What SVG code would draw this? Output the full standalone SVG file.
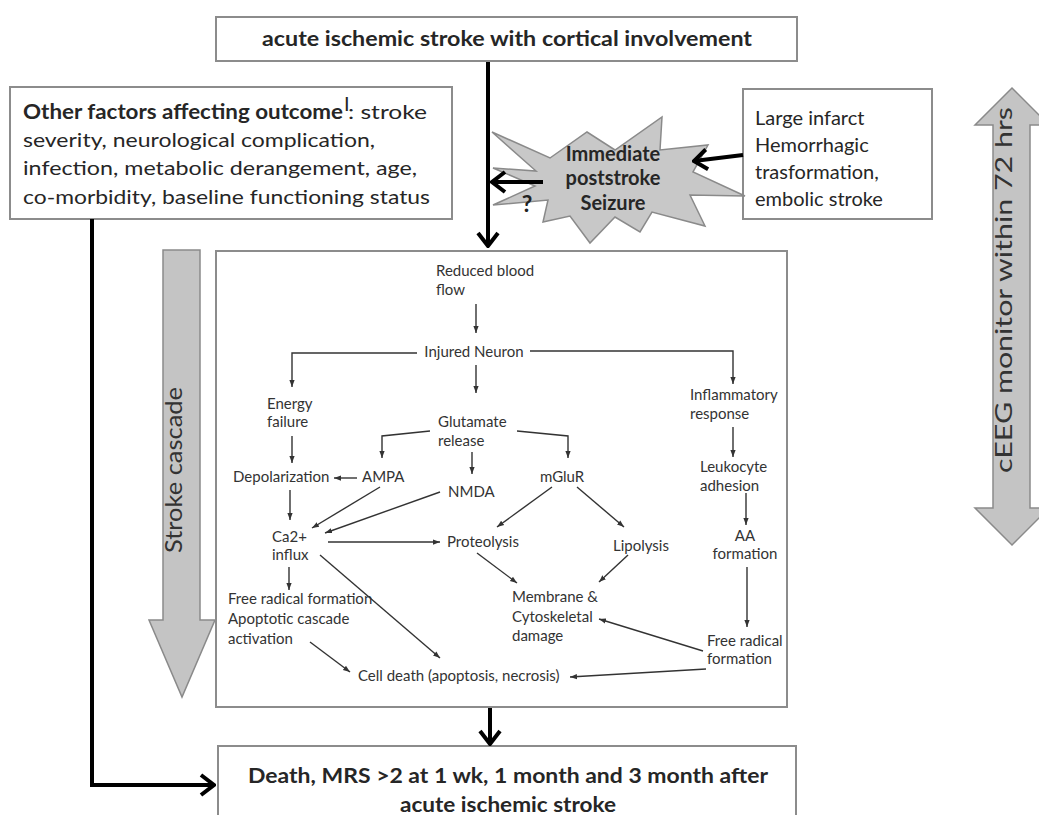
<svg xmlns="http://www.w3.org/2000/svg" width="1039" height="815" viewBox="0 0 1039 815">
<style>
.box{fill:#fff;stroke:#8c8c8c;stroke-width:2}
.big{font-family:Lato,"Liberation Sans",sans-serif;font-size:20px;fill:#262626}
.bold{font-weight:bold}
.sm{font-family:Lato,"Liberation Sans",sans-serif;font-size:15px;fill:#333}
.mid{text-anchor:middle}
.thick{fill:none;stroke:#000;stroke-width:4;marker-end:url(#chev)}
.thin{fill:none;stroke:#333;stroke-width:1.4;marker-end:url(#tri)}
.garrow{fill:#c4c4c4;stroke:#8a8a8a;stroke-width:1.5}
.rot{font-family:Lato,"Liberation Sans",sans-serif;font-size:23px;fill:#333;text-anchor:middle}
</style>
<defs>
<marker id="chev" viewBox="-16 -13 18 26" refX="0" refY="0" markerWidth="18" markerHeight="26" orient="auto" markerUnits="userSpaceOnUse">
<path d="M-13,-10 L0,0 L-13,10" fill="none" stroke="#000" stroke-width="4"/>
</marker>
<marker id="tri" viewBox="0 0 8 8" refX="8" refY="4" markerWidth="7" markerHeight="7" orient="auto" markerUnits="userSpaceOnUse">
<path d="M0,1 L8,4 L0,7z" fill="#333"/>
</marker>
</defs>
<rect width="1039" height="815" fill="#fff"/>

<g id="cascade-arrow">
<polygon class="garrow" points="163,250 200,250 200,620 215,620 182,697 149,620 163,620"/>
<text class="rot" transform="translate(182,470) rotate(-90)" textLength="166" lengthAdjust="spacingAndGlyphs">Stroke cascade</text>
</g>
<g id="ceeg-arrow">
<polygon class="garrow" points="1012,88 1049,125 1030,125 1030,508 1049,508 1012,545 975,508 993,508 993,125 975,125"/>
<text class="rot" transform="translate(1012,290) rotate(-90)" textLength="366" lengthAdjust="spacingAndGlyphs">cEEG monitor within 72 hrs</text>
</g>

<g id="top">
<rect class="box" x="216" y="17" width="581" height="44"/>
<text class="big bold mid" x="507" y="46" textLength="490" lengthAdjust="spacingAndGlyphs">acute ischemic stroke with cortical involvement</text>
</g>
<g id="other-factors">
<rect class="box" x="10" y="87" width="442" height="132"/>
<text class="big bold" x="23" y="119" textLength="320" lengthAdjust="spacingAndGlyphs">Other factors affecting outcome</text>
<text class="big" x="344" y="111" font-size="9">I</text>
<text class="big" x="348" y="119" textLength="79" lengthAdjust="spacingAndGlyphs">: stroke</text>
<text class="big" x="23" y="147" textLength="352" lengthAdjust="spacingAndGlyphs">severity, neurological complication,</text>
<text class="big" x="23" y="175" textLength="394" lengthAdjust="spacingAndGlyphs">infection, metabolic derangement, age,</text>
<text class="big" x="23" y="204" textLength="407" lengthAdjust="spacingAndGlyphs">co-morbidity, baseline functioning status</text>
</g>
<g id="risk">
<rect class="box" x="743" y="89" width="189" height="130"/>
<text class="big" font-size="21" x="755" y="125">Large infarct</text>
<text class="big" font-size="21" x="755" y="152">Hemorrhagic</text>
<text class="big" font-size="21" x="755" y="179">trasformation,</text>
<text class="big" font-size="21" x="755" y="206">embolic stroke</text>
</g>
<g id="seizure">
<polygon fill="#c8c8c8" stroke="#8a8a8a" stroke-width="1.5" points="492,132 550,158 587,132 615,150 662,117 660,150 708,145 693,172 745,196 690,195 705,226 652,212 640,232 615,217 590,243 570,216 543,222 548,200 493,205 535,186 493,168 536,171"/>
<text class="big bold mid" font-size="17" x="613" y="161">Immediate</text>
<text class="big bold mid" font-size="17" x="613" y="185">poststroke</text>
<text class="big bold mid" font-size="17" x="613" y="210">Seizure</text>
</g>

<g id="stroke-cascade-box">
<rect class="box" x="216" y="251" width="571" height="456"/>
<text class="sm" x="436" y="276">Reduced blood</text>
<text class="sm" x="436" y="295">flow</text>
<text class="sm mid" x="474" y="357">Injured Neuron</text>
<text class="sm" x="267" y="409">Energy</text>
<text class="sm" x="267" y="427">failure</text>
<text class="sm" x="438" y="427">Glutamate</text>
<text class="sm" x="438" y="446">release</text>
<text class="sm" x="690" y="400">Inflammatory</text>
<text class="sm" x="690" y="419">response</text>
<text class="sm" x="233" y="482">Depolarization</text>
<text class="sm" x="362" y="482">AMPA</text>
<text class="sm" x="448" y="497">NMDA</text>
<text class="sm" x="540" y="482">mGluR</text>
<text class="sm" x="700" y="472">Leukocyte</text>
<text class="sm" x="700" y="491">adhesion</text>
<text class="sm" x="272" y="542">Ca2+</text>
<text class="sm" x="272" y="560">influx</text>
<text class="sm" x="447" y="547">Proteolysis</text>
<text class="sm" x="613" y="551">Lipolysis</text>
<text class="sm mid" x="745" y="541">AA</text>
<text class="sm mid" x="745" y="559">formation</text>
<text class="sm" x="228" y="604">Free radical formation</text>
<text class="sm" x="228" y="624">Apoptotic cascade</text>
<text class="sm" x="228" y="644">activation</text>
<text class="sm" x="512" y="602">Membrane &amp;</text>
<text class="sm" x="512" y="622">Cytoskeletal</text>
<text class="sm" x="512" y="641">damage</text>
<text class="sm" x="707" y="646">Free radical</text>
<text class="sm" x="707" y="664">formation</text>
<text class="sm" x="358" y="681">Cell death (apoptosis, necrosis)</text>
</g>

<g id="outcome">
<rect class="box" x="218" y="746" width="578" height="80"/>
<text class="big bold mid" x="508" y="783" textLength="520" lengthAdjust="spacingAndGlyphs">Death, MRS &gt;2 at 1 wk, 1 month and 3 month after</text>
<text class="big bold mid" x="508" y="812" textLength="216" lengthAdjust="spacingAndGlyphs">acute ischemic stroke</text>
</g>

<g id="connectors">
<path class="thick" d="M488,62 V246"/>
<path class="thick" d="M543,182 H492"/>
<path class="thick" d="M743,155 L694,161"/>
<path class="thick" d="M490,708 V744"/>
<path class="thick" d="M92,219 V785 H214"/>
<text x="527" y="212" font-family="Lato,'Liberation Sans',sans-serif" font-size="23" font-weight="bold" fill="#222" text-anchor="middle">?</text>
<path class="thin" d="M476,304 V333"/>
<path class="thin" d="M417,353 H292 V387"/>
<path class="thin" d="M476,365 V393"/>
<path class="thin" d="M530,351 H733 V384"/>
<path class="thin" d="M292,436 V463"/>
<path class="thin" d="M430,431 L382,436 V458"/>
<path class="thin" d="M472,452 V474"/>
<path class="thin" d="M517,431 L568,436 V458"/>
<path class="thin" d="M357,478 H334"/>
<path class="thin" d="M290,490 V520"/>
<path class="thin" d="M380,487 L312,528"/>
<path class="thin" d="M440,492 L325,533"/>
<path class="thin" d="M328,542 H440"/>
<path class="thin" d="M552,487 L497,527"/>
<path class="thin" d="M577,487 L624,527"/>
<path class="thin" d="M477,553 L517,583"/>
<path class="thin" d="M628,555 L599,582"/>
<path class="thin" d="M289,567 V590"/>
<path class="thin" d="M320,555 L440,658"/>
<path class="thin" d="M310,642 L350,672"/>
<path class="thin" d="M733,427 V457"/>
<path class="thin" d="M746,493 V525"/>
<path class="thin" d="M747,567 V627"/>
<path class="thin" d="M703,651 L599,619"/>
<path class="thin" d="M706,669 L570,677"/>
</g>
</svg>
